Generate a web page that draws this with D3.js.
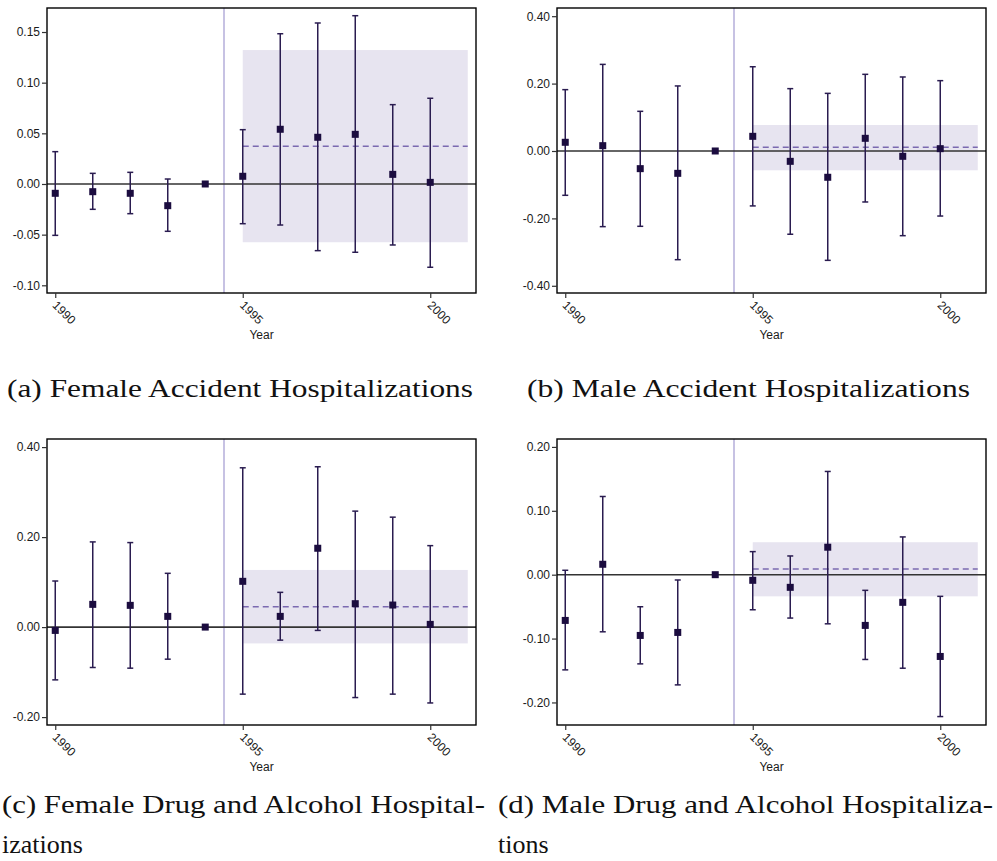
<!DOCTYPE html>
<html>
<head>
<meta charset="utf-8">
<script src="https://cdn.jsdelivr.net/npm/d3@7"></script>
<style>
  html, body { margin: 0; padding: 0; background: #fff; }
  svg { display: block; }
</style>
</head>
<body>
<svg id="chart" width="997" height="861"></svg>
<script>
// ---------- data ----------
const years = [1990, 1991, 1992, 1993, 1994, 1995, 1996, 1997, 1998, 1999, 2000];
const xTickYears = [1990, 1995, 2000];

const femAccEst = [-0.0092, -0.0076, -0.0092, -0.0214, 0, 0.0076, 0.054, 0.0461, 0.049, 0.0095, 0.0016];
const femAccLo  = [-0.0507, -0.025, -0.0293, -0.0467, 0, -0.0392, -0.0405, -0.0658, -0.0674, -0.0602, -0.0822];
const femAccHi  = [0.0319, 0.0105, 0.0115, 0.0049, 0, 0.0536, 0.1483, 0.1589, 0.1661, 0.0783, 0.0846];
const femAccPost = [0.0372, -0.0575, 0.1322]; // mean, lo, hi

const maleAccEst = [0.0258, 0.0158, -0.0524, -0.0663, 0, 0.0435, -0.0307, -0.078, 0.0376, -0.0158, 0.0069];
const maleAccLo  = [-0.1315, -0.2245, -0.2235, -0.3225, 0, -0.163, -0.247, -0.3245, -0.1513, -0.2513, -0.193];
const maleAccHi  = [0.182, 0.257, 0.1177, 0.193, 0, 0.25, 0.185, 0.171, 0.2275, 0.2196, 0.2087];
const maleAccPost = [0.011, -0.0573, 0.077];

const femDrugEst = [-0.0074, 0.0505, 0.0483, 0.0238, 0, 0.1017, 0.0238, 0.1752, 0.052, 0.049, 0.006];
const femDrugLo  = [-0.1173, -0.0898, -0.0913, -0.0713, 0, -0.149, -0.029, -0.0074, -0.1566, -0.149, -0.1686];
const femDrugHi  = [0.1024, 0.1893, 0.1878, 0.1195, 0, 0.354, 0.0772, 0.3563, 0.2577, 0.2443, 0.181];
const femDrugPost = [0.0452, -0.0363, 0.127];

const maleDrugEst = [-0.0716, 0.0163, -0.0951, -0.0904, 0, -0.0088, -0.0198, 0.043, -0.0794, -0.0433, -0.128];
const maleDrugLo  = [-0.149, -0.0894, -0.1396, -0.1725, 0, -0.0549, -0.0679, -0.0769, -0.1327, -0.1464, -0.2221];
const maleDrugHi  = [0.0069, 0.1224, -0.0502, -0.0083, 0, 0.0361, 0.0293, 0.1616, -0.0245, 0.0591, -0.0339];
const maleDrugPost = [0.0089, -0.0339, 0.0508];

const yTicksA = [-0.10, -0.05, 0.00, 0.05, 0.10, 0.15];
const yLabelsA = ["-0.10", "-0.05", "0.00", "0.05", "0.10", "0.15"];
const yTicksB = [-0.40, -0.20, 0.00, 0.20, 0.40];
const yLabelsB = ["-0.40", "-0.20", "0.00", "0.20", "0.40"];
const yTicksC = [-0.20, 0.00, 0.20, 0.40];
const yLabelsC = ["-0.20", "0.00", "0.20", "0.40"];
const yTicksD = [-0.20, -0.10, 0.00, 0.10, 0.20];
const yLabelsD = ["-0.20", "-0.10", "0.00", "0.10", "0.20"];

const yDomainA = [-0.1076, 0.1737];
const yDomainB = [-0.4214, 0.4243];
const yDomainC = [-0.2176, 0.418];
const yDomainD = [-0.2353, 0.2124];
const xDomain = [1989.78, 2001.22];
const policyYear = 1994.5;
const postRange = [1995, 2001];

const captionA = ["(a) Female Accident Hospitalizations"];
const captionB = ["(b) Male Accident Hospitalizations"];
const captionC = ["(c) Female Drug and Alcohol Hospital-", "izations"];
const captionD = ["(d) Male Drug and Alcohol Hospitaliza-", "tions"];
const xAxisTitle = "Year";

// ---------- drawing ----------
const svg = d3.select("#chart");
const C = {
  point: "#1b0c3f",
  bar: "#2a1c50",
  vline: "#b9b3dc",
  band: "#e7e4f0",
  dash: "#7b69b0",
  zero: "#333333",
  frame: "#000000",
  text: "#1a1a1a"
};
const sans = "'Liberation Sans', Arial, Helvetica, sans-serif";

function panel(cfg) {
  const {left, top, width, height, est, lo, hi, post, yDomain, yTicks, yLabels} = cfg;
  const g = svg.append("g").attr("transform", `translate(${left},${top})`);
  const x = d3.scaleLinear().domain(xDomain).range([0, width]);
  const y = d3.scaleLinear().domain(yDomain).range([height, 0]);

  // post-period band
  g.append("rect")
    .attr("x", x(postRange[0])).attr("width", x(postRange[1]) - x(postRange[0]))
    .attr("y", y(post[2])).attr("height", y(post[1]) - y(post[2]))
    .attr("fill", C.band);

  // policy line
  g.append("line")
    .attr("x1", x(policyYear)).attr("x2", x(policyYear))
    .attr("y1", 0).attr("y2", height)
    .attr("stroke", C.vline).attr("stroke-width", 1.6);

  // zero line
  g.append("line")
    .attr("x1", 0).attr("x2", width)
    .attr("y1", y(0)).attr("y2", y(0))
    .attr("stroke", C.zero).attr("stroke-width", 1.6);

  // mean dashed line
  g.append("line")
    .attr("x1", x(postRange[0])).attr("x2", x(postRange[1]))
    .attr("y1", y(post[0])).attr("y2", y(post[0]))
    .attr("stroke", C.dash).attr("stroke-width", 1.5)
    .attr("stroke-dasharray", "6,4");

  const data = years.map((yr, i) => ({yr, e: est[i], l: lo[i], h: hi[i]}));
  const withBars = data.filter(d => d.l !== d.h);

  // error bars
  const eb = g.append("g").attr("stroke", C.bar).attr("stroke-width", 1.5);
  eb.selectAll("line.v").data(withBars).join("line").attr("class", "v")
    .attr("x1", d => x(d.yr)).attr("x2", d => x(d.yr))
    .attr("y1", d => y(d.h)).attr("y2", d => y(d.l));
  eb.selectAll("line.ct").data(withBars).join("line").attr("class", "ct")
    .attr("x1", d => x(d.yr) - 3).attr("x2", d => x(d.yr) + 3)
    .attr("y1", d => y(d.h)).attr("y2", d => y(d.h));
  eb.selectAll("line.cb").data(withBars).join("line").attr("class", "cb")
    .attr("x1", d => x(d.yr) - 3).attr("x2", d => x(d.yr) + 3)
    .attr("y1", d => y(d.l)).attr("y2", d => y(d.l));

  // points
  const s = 7;
  g.selectAll("rect.pt").data(data).join("rect").attr("class", "pt")
    .attr("x", d => x(d.yr) - s / 2).attr("y", d => y(d.e) - s / 2)
    .attr("width", s).attr("height", s)
    .attr("fill", C.point);

  // frame
  g.append("rect")
    .attr("x", 0).attr("y", 0).attr("width", width).attr("height", height)
    .attr("fill", "none").attr("stroke", C.frame).attr("stroke-width", 1.4);

  // y axis
  const yAxis = d3.axisLeft(y).tickValues(yTicks)
    .tickFormat((d, i) => yLabels[i]).tickSize(5).tickPadding(2);
  const ya = g.append("g").call(yAxis);
  ya.select(".domain").remove();
  ya.selectAll(".tick line").attr("stroke", "#333").attr("stroke-width", 1.2);
  ya.selectAll(".tick text").attr("fill", C.text)
    .style("font-family", sans).style("font-size", "12px");

  // x axis
  const xAxis = d3.axisBottom(x).tickValues(xTickYears).tickFormat(d3.format("d")).tickSize(5);
  const xa = g.append("g").attr("transform", `translate(0,${height})`).call(xAxis);
  xa.select(".domain").remove();
  xa.selectAll(".tick line").attr("stroke", "#333").attr("stroke-width", 1.2);
  xa.selectAll(".tick text")
    .attr("fill", C.text)
    .style("font-family", sans).style("font-size", "12px")
    .attr("text-anchor", "start")
    .attr("x", 0).attr("y", 0).attr("dy", "0.35em")
    .attr("transform", "translate(-1,10) rotate(45)");

  g.append("text")
    .attr("x", width / 2).attr("y", height + 46)
    .attr("text-anchor", "middle")
    .attr("fill", C.text)
    .style("font-family", sans).style("font-size", "12px")
    .text(xAxisTitle);
}

const W = 429, H1 = 285, H2 = 286;
panel({left: 47, top: 8, width: W, height: H1, est: femAccEst, lo: femAccLo, hi: femAccHi,
  post: femAccPost, yDomain: yDomainA, yTicks: yTicksA, yLabels: yLabelsA});
panel({left: 557, top: 8, width: W, height: H1, est: maleAccEst, lo: maleAccLo, hi: maleAccHi,
  post: maleAccPost, yDomain: yDomainB, yTicks: yTicksB, yLabels: yLabelsB});
panel({left: 47, top: 439, width: W, height: H2, est: femDrugEst, lo: femDrugLo, hi: femDrugHi,
  post: femDrugPost, yDomain: yDomainC, yTicks: yTicksC, yLabels: yLabelsC});
panel({left: 557, top: 439, width: W, height: H2, est: maleDrugEst, lo: maleDrugLo, hi: maleDrugHi,
  post: maleDrugPost, yDomain: yDomainD, yTicks: yTicksD, yLabels: yLabelsD});

// captions
function caption(lines, x, y, widths) {
  lines.forEach((t, i) => {
    const tx = svg.append("text")
      .attr("x", x).attr("y", y + i * 40)
      .attr("fill", "#111")
      .style("font-family", "'Liberation Serif', 'Times New Roman', serif")
      .style("font-size", "26px")
      .text(t);
    if (widths[i]) tx.attr("textLength", widths[i]).attr("lengthAdjust", "spacingAndGlyphs");
  });
}
caption(captionA, 7, 397, [466]);
caption(captionB, 527, 397, [443]);
caption(captionC, 2, 813, [483, null]);
caption(captionD, 498, 813, [495, null]);
</script>
</body>
</html>
